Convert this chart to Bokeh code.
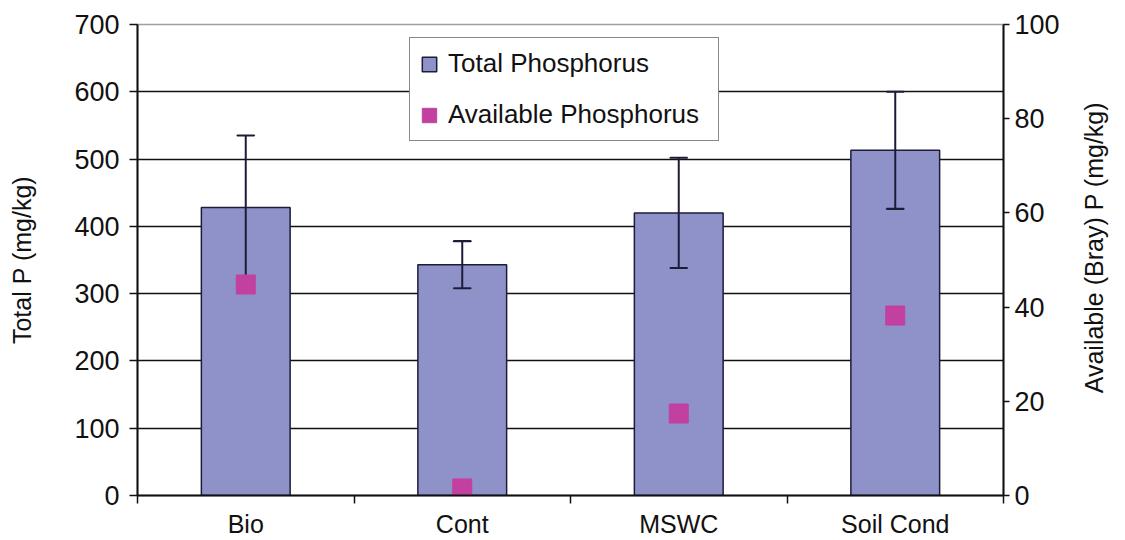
import math
import numpy as np
from bokeh.plotting import figure
from bokeh.models import Range1d, LinearAxis, FixedTicker, Legend, LegendItem, ColumnDataSource
from bokeh.embed import file_html
from bokeh.resources import INLINE

categories = ["Bio", "Cont", "MSWC", "Soil Cond"]
total_p = [428, 343, 420, 513]
total_p_err = [107, 35, 82, 87]
avail_p = [44.8, 1.5, 17.4, 38.2]
left_ticks = [0, 100, 200, 300, 400, 500, 600, 700]
right_ticks = [0, 20, 40, 60, 80, 100]
right_label = "Available (Bray) P (mg/kg)"

FONT = "Liberation Sans"
BAR_FILL = "#8e92c8"
BAR_LINE = "#1c1c3a"
MAG = "#c2409f"

x = np.arange(len(categories)) + 0.5
tp = np.array(total_p, dtype=float)
err = np.array(total_p_err, dtype=float)
src = ColumnDataSource(dict(x=x, top=tp, lo=tp - err, hi=tp + err, avail=avail_p))

p = figure(width=1125, height=540, x_range=Range1d(0, len(categories)),
           y_range=Range1d(0, 700), output_backend="svg", toolbar_location=None,
           min_border_left=137, min_border_right=120, min_border_top=24,
           min_border_bottom=45)
p.extra_y_ranges = {"avail": Range1d(0, 100)}
p.outline_line_color = "#a0a0a0"
p.outline_line_width = 1.5
p.background_fill_color = "white"
p.border_fill_color = "white"

# grid
p.xgrid.visible = False
p.ygrid.ticker = FixedTicker(ticks=left_ticks[1:-1])
p.ygrid.grid_line_color = "#111111"
p.ygrid.grid_line_width = 1.5

bars = p.vbar(x="x", top="top", width=0.41, bottom=0, source=src,
              fill_color=BAR_FILL, line_color=BAR_LINE, line_width=1.5)
# error bars
p.segment(x0="x", y0="lo", x1="x", y1="hi", source=src, line_color=BAR_LINE, line_width=2)
p.rect(x="x", y="hi", width=17, height=0.1, width_units="screen", height_units="screen",
       source=src, line_color=BAR_LINE, line_width=2, fill_color=None)
p.rect(x="x", y="lo", width=17, height=0.1, width_units="screen", height_units="screen",
       source=src, line_color=BAR_LINE, line_width=2, fill_color=None)
pts = p.rect(x="x", y="avail", width=19, height=19, width_units="screen", height_units="screen",
             source=src, y_range_name="avail", fill_color=MAG, line_color=MAG)

# x axis
xa = p.xaxis[0]
xa.ticker = FixedTicker(ticks=list(x), minor_ticks=list(range(len(categories) + 1)))
xa.major_label_overrides = {float(xv): c for xv, c in zip(x, categories)}
xa.major_tick_out = 0
xa.major_tick_in = 0
xa.minor_tick_out = 8
xa.minor_tick_in = 0
xa.minor_tick_line_color = "#111111"
xa.minor_tick_line_width = 1.5
xa.axis_line_color = "#111111"
xa.axis_line_width = 2
xa.major_label_text_font = FONT
xa.major_label_text_font_size = "25px"
xa.major_label_text_color = "#111111"
xa.major_label_standoff = 6

# left axis
ya = p.yaxis[0]
ya.ticker = FixedTicker(ticks=left_ticks)
ya.minor_tick_line_color = None
ya.major_tick_out = 8
ya.major_tick_in = 0
ya.major_tick_line_color = "#111111"
ya.major_tick_line_width = 1.5
ya.axis_line_color = "#111111"
ya.axis_line_width = 2
ya.major_label_text_font = FONT
ya.major_label_text_font_size = "27px"
ya.major_label_text_color = "#111111"
ya.major_label_standoff = 10
ya.axis_label = "Total P (mg/kg)"
ya.axis_label_text_font = FONT
ya.axis_label_text_font_style = "normal"
ya.axis_label_text_font_size = "25px"
ya.axis_label_text_color = "#111111"
ya.axis_label_standoff = 35

# right axis
ra = LinearAxis(y_range_name="avail", ticker=FixedTicker(ticks=right_ticks))
ra.minor_tick_line_color = None
ra.major_tick_out = 6
ra.major_tick_in = 0
ra.major_tick_line_color = "#111111"
ra.major_tick_line_width = 1.5
ra.axis_line_color = "#111111"
ra.axis_line_width = 2
ra.major_label_text_font = FONT
ra.major_label_text_font_size = "27px"
ra.major_label_text_color = "#111111"
ra.major_label_standoff = 5
p.add_layout(ra, "right")

# right axis title (bottom-to-top) as an outer, line-less axis with one label
title_anchor = 21.7
rt = LinearAxis(y_range_name="avail", ticker=FixedTicker(ticks=[title_anchor]))
rt.major_label_overrides = {title_anchor: right_label}
rt.major_label_orientation = math.pi / 2
rt.axis_line_color = None
rt.major_tick_line_color = None
rt.minor_tick_line_color = None
rt.major_tick_out = 0
rt.major_label_standoff = 32
rt.major_label_text_font = FONT
rt.major_label_text_font_size = "25px"
rt.major_label_text_color = "#111111"
p.add_layout(rt, "right")

legend = Legend(items=[LegendItem(label="Total Phosphorus", renderers=[bars]),
                       LegendItem(label="Available Phosphorus", renderers=[pts])],
                location=(272, 354), orientation="vertical")
legend.label_text_font = FONT
legend.label_text_font_size = "26px"
legend.label_text_color = "#111111"
legend.glyph_width = 18
legend.glyph_height = 18
legend.label_height = 30
legend.label_width = 260
legend.label_standoff = 10
legend.spacing = 20
legend.padding = 10
legend.margin = 0
legend.border_line_color = "#111111"
legend.border_line_width = 1.5
legend.background_fill_alpha = 1.0
p.add_layout(legend, "center")

open("out.html", "w").write(file_html(p, INLINE))
